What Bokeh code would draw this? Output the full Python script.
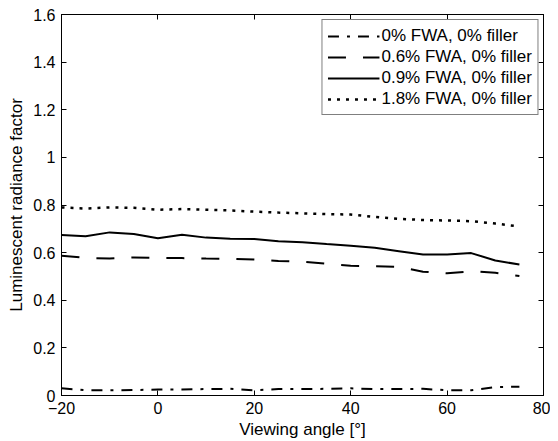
from bokeh.plotting import figure
from bokeh.models import LinearAxis, FixedTicker, Range1d
from bokeh.embed import file_html
from bokeh.resources import INLINE

# ---- data ----
angles = [-20, -15, -10, -5, 0, 5, 10, 15, 20, 25, 30, 35, 40, 45, 50, 55, 60, 65, 70, 75]
fwa_00 = [0.030, 0.022, 0.022, 0.023, 0.025, 0.025, 0.027, 0.028, 0.022, 0.027,
          0.027, 0.028, 0.030, 0.027, 0.027, 0.028, 0.022, 0.022, 0.035, 0.037]
fwa_06 = [0.587, 0.578, 0.575, 0.580, 0.578, 0.577, 0.575, 0.574, 0.571, 0.565,
          0.562, 0.553, 0.545, 0.543, 0.540, 0.520, 0.513, 0.522, 0.515, 0.502]
fwa_09 = [0.674, 0.669, 0.685, 0.678, 0.660, 0.675, 0.663, 0.658, 0.657, 0.648,
          0.644, 0.636, 0.629, 0.620, 0.606, 0.592, 0.592, 0.598, 0.567, 0.550]
fwa_18 = [0.790, 0.785, 0.790, 0.788, 0.780, 0.783, 0.780, 0.777, 0.772, 0.768,
          0.765, 0.762, 0.760, 0.750, 0.742, 0.737, 0.735, 0.732, 0.722, 0.710]
series_labels = ["0% FWA, 0% filler", "0.6% FWA, 0% filler",
                 "0.9% FWA, 0% filler", "1.8% FWA, 0% filler"]
x_ticks = [-20, 0, 20, 40, 60, 80]
x_tick_labels = ["\u221220", "0", "20", "40", "60", "80"]
y_ticks = [0, 0.2, 0.4, 0.6, 0.8, 1.0, 1.2, 1.4, 1.6]
y_tick_labels = ["0", "0.2", "0.4", "0.6", "0.8", "1", "1.2", "1.4", "1.6"]
x_label = "Viewing angle [\u00b0]"
y_label = "Luminescent radiance factor"

FONT = "Liberation Sans"
TICK_FS = "16px"
LABEL_FS = "17px"

p = figure(width=550, height=441,
           x_range=Range1d(-20, 80), y_range=Range1d(0, 1.6),
           output_backend="svg", toolbar_location=None,
           min_border_left=61, min_border_top=14, min_border_right=7,
           min_border_bottom=36)
p.background_fill_color = "white"
p.border_fill_color = "white"
p.outline_line_color = "black"
p.outline_line_width = 1
p.outline_line_alpha = 1
p.xgrid.visible = False
p.ygrid.visible = False

def style_axis(ax, ticks, labels, show_labels=True):
    ax.ticker = FixedTicker(ticks=ticks)
    ax.major_tick_in = 5
    ax.major_tick_out = 0
    ax.minor_tick_line_color = None
    ax.axis_line_color = "black"
    ax.major_tick_line_color = "black"
    ax.major_label_text_font = FONT
    if show_labels:
        ax.major_label_overrides = {t: l for t, l in zip(ticks, labels)}
        ax.major_label_text_font_size = TICK_FS
        ax.major_label_text_color = "black"
    else:
        ax.major_label_overrides = {t: "" for t in ticks}
        ax.major_label_text_font_size = "1px"
        ax.major_label_text_color = None
        ax.major_label_standoff = 0

style_axis(p.xaxis[0], x_ticks, x_tick_labels)
style_axis(p.yaxis[0], y_ticks, y_tick_labels)
p.xaxis[0].major_label_standoff = 6
p.yaxis[0].major_label_standoff = 6
p.xaxis[0].axis_label = x_label
p.yaxis[0].axis_label = y_label
for ax in (p.xaxis[0], p.yaxis[0]):
    ax.axis_label_text_font = FONT
    ax.axis_label_text_font_size = LABEL_FS
    ax.axis_label_text_font_style = "normal"
    ax.axis_label_text_color = "black"
p.xaxis[0].axis_label_standoff = 3
p.yaxis[0].axis_label_standoff = 4

top_ax = LinearAxis()
right_ax = LinearAxis()
style_axis(top_ax, x_ticks, x_tick_labels, show_labels=False)
style_axis(right_ax, y_ticks, y_tick_labels, show_labels=False)
p.add_layout(top_ax, "above")
p.add_layout(right_ax, "right")

series = [fwa_00, fwa_06, fwa_09, fwa_18]
dashes = ["11 8 3 8", "18 17", "solid", "3 6"]
widths = [2, 2, 2, 2.5]
for vals, lab, dash, w in zip(series, series_labels, dashes, widths):
    p.line(angles, vals, line_color="black", line_width=w, line_dash=dash,
           legend_label=lab)

lg = p.legend[0]
lg.location = "top_right"
lg.margin = 5
lg.border_line_color = "black"
lg.border_line_width = 1
lg.background_fill_color = "white"
lg.background_fill_alpha = 1
lg.label_text_font = FONT
lg.label_text_font_size = "17px"
lg.label_text_color = "black"
lg.glyph_width = 52
lg.glyph_height = 20
lg.label_height = 21
lg.spacing = 0
lg.padding = 5
lg.label_standoff = 2

open("out.html", "w").write(file_html(p, INLINE))
